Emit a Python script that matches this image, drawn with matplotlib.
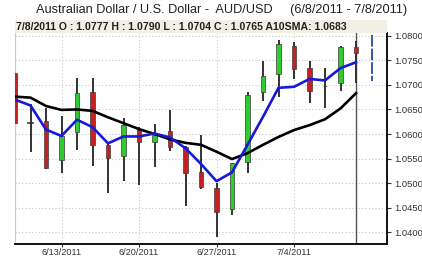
import numpy as np
import matplotlib
matplotlib.use('Agg')
import matplotlib.pyplot as plt
from matplotlib.patches import Rectangle

# --- colours ---
ROJO  = '#C8201E'
VERDE = '#2ECC2E'
AZUL  = '#1818D8'
MECHA = '#333333'

plt.rcParams['font.family'] = ['Liberation Sans', 'DejaVu Sans']

# --- data (AUD/USD daily, 6/8/2011 - 7/8/2011) ---
fechas = ['6/8', '6/9', '6/10', '6/13', '6/14', '6/15', '6/16', '6/17',
          '6/20', '6/21', '6/22', '6/23', '6/24', '6/27', '6/28', '6/29',
          '6/30', '7/1', '7/4', '7/5', '7/6', '7/7', '7/8']
aperturas = [1.0724, 1.0623, 1.0626, 1.0547, 1.0605, 1.0685, 1.0578, 1.0556,
             1.0608, 1.0583, 1.0606, 1.0573, 1.0522, 1.0490, 1.0447, 1.0544,
             1.0685, 1.0723, 1.0780, 1.0735, 1.0697, 1.0703, 1.0777]
maximos   = [1.0725, 1.0662, 1.0652, 1.0637, 1.0713, 1.0713, 1.0582, 1.0632,
             1.0615, 1.0620, 1.0649, 1.0576, 1.0598, 1.0501, 1.0542, 1.0686,
             1.0749, 1.0791, 1.0788, 1.0749, 1.0734, 1.0780, 1.0790]
minimos   = [1.0588, 1.0564, 1.0528, 1.0520, 1.0567, 1.0535, 1.0479, 1.0504,
             1.0496, 1.0532, 1.0566, 1.0454, 1.0488, 1.0390, 1.0435, 1.0521,
             1.0668, 1.0676, 1.0711, 1.0664, 1.0653, 1.0687, 1.0704]
cierres   = [1.0622, 1.0623, 1.0530, 1.0596, 1.0683, 1.0578, 1.0552, 1.0618,
             1.0583, 1.0598, 1.0574, 1.0521, 1.0493, 1.0442, 1.0540, 1.0679,
             1.0718, 1.0783, 1.0732, 1.0687, 1.0698, 1.0778, 1.0765]
sma10     = [1.0676, 1.0674, 1.0657, 1.0649, 1.0650, 1.0647, 1.0634, 1.0622,
             1.0610, 1.0600, 1.0589, 1.0582, 1.0578, 1.0564, 1.0549, 1.0561,
             1.0578, 1.0594, 1.0608, 1.0618, 1.0630, 1.0652, 1.0683]
media_corta = [1.0670, 1.0658, 1.0609, 1.0596, 1.0629, 1.0614, 1.0581, 1.0595,
               1.0595, 1.0601, 1.0593, 1.0571, 1.0539, 1.0504, 1.0522, 1.0578,
               1.0635, 1.0694, 1.0696, 1.0712, 1.0709, 1.0734, 1.0746]
proyeccion = [1.0801, 1.0707]   # dashed blue bar after last candle

etiquetas_x = {3: '6/13/2011', 8: '6/20/2011', 13: '6/27/2011', 18: '7/4/2011'}
niveles_y = [1.0400, 1.0450, 1.0500, 1.0550, 1.0600, 1.0650, 1.0700, 1.0750, 1.0800]

# --- figure ---
fig = plt.figure(figsize=(4.22, 2.58), dpi=100)
ax = fig.add_axes([15/422, 1 - 244/258, 372/422, 211/258])

x = np.arange(len(fechas))
ancho = 0.26
for i in x:
    o, h, l, c = aperturas[i], maximos[i], minimos[i], cierres[i]
    ax.plot([i, i], [l, h], color=MECHA, lw=1.4, zorder=2, solid_capstyle='butt')
    if abs(c - o) < 1e-5:
        ax.plot([i - ancho / 2, i + ancho / 2], [o, o], color=MECHA, lw=1.2, zorder=3)
        continue
    col = VERDE if c > o else ROJO
    ax.add_patch(Rectangle((i - ancho / 2, min(o, c)), ancho, abs(c - o),
                           facecolor=col, edgecolor='#3a3a3a', lw=0.5, zorder=3))

ax.plot(x, sma10, color='black', lw=1.9, zorder=4)
ax.plot(x, media_corta, color=AZUL, lw=1.9, zorder=5)

# cursor on last day + projection bar
ax.axvline(len(fechas) - 1, color='#555555', lw=1.0, zorder=1)
ax.plot([len(fechas), len(fechas)], proyeccion, color='#3355AA', lw=1.4,
        ls=(0, (6, 1)), zorder=3)

ax.set_xlim(0, 24)
ax.set_ylim(1.03762, 1.08055)

ax.set_xticks(list(etiquetas_x.keys()))
ax.set_xticklabels(list(etiquetas_x.values()))
ax.set_yticks(niveles_y)
ax.set_yticklabels([f'{v:.4f}' for v in niveles_y])
ax.yaxis.tick_right()
ax.tick_params(axis='y', labelsize=6.8, colors='#333333', length=3, width=0.8, pad=2)
ax.tick_params(axis='x', labelsize=6.6, colors='#333333', length=2, width=0.8, pad=1)

ax.grid(True, color='#c8c8c8', ls=(0, (1, 2)), lw=0.8)
ax.set_axisbelow(True)

ax.spines['top'].set_visible(False)
ax.spines['left'].set_color('#cccccc')
ax.spines['bottom'].set_linewidth(1.3)
ax.spines['right'].set_linewidth(1.3)

# header band with the last quote
fig.patches.append(Rectangle((15/422, 1 - 33/258), 372/422, 13.5/258,
                             transform=fig.transFigure, facecolor='#F2F0E4',
                             edgecolor='none', zorder=0))
fig.text(16/422, 1 - 26.5/258,
         '7/8/2011 O : 1.0777 H : 1.0790 L : 1.0704 C : 1.0765 A10SMA: 1.0683',
         fontsize=7.6, fontweight='bold', color='#222222', va='center', ha='left')

fig.text(221.5/422, 1 - 10/258,
         'Australian Dollar / U.S. Dollar -  AUD/USD     (6/8/2011 - 7/8/2011)',
         fontsize=9.2, color='#222222', va='center', ha='center')

fig.savefig('out.png', dpi=100)
